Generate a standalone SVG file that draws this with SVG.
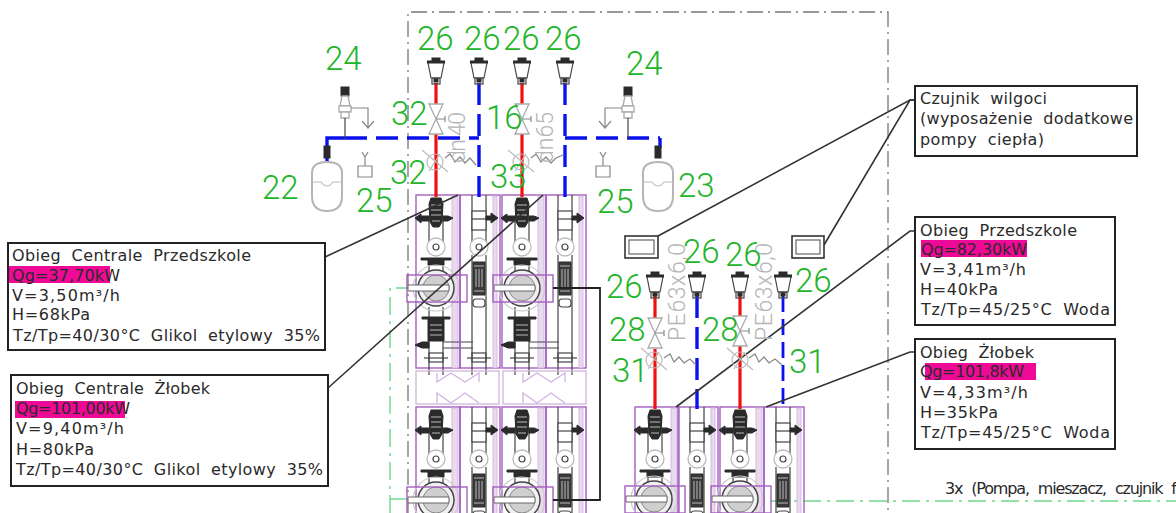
<svg xmlns="http://www.w3.org/2000/svg" width="1176" height="513" viewBox="0 0 1176 513">
<style>
text{font-family:"DejaVu Sans","Liberation Sans",sans-serif}
.t{font-size:16px;fill:#2a2a2a;word-spacing:5px}
.n{font-family:Roboto,"Liberation Sans",sans-serif;font-weight:300;font-size:33px;fill:#22b52a}
.g{font-family:Roboto,"Liberation Sans",sans-serif;font-weight:300;font-size:23px;fill:#b5b5b5}
.box{fill:#fff;stroke:#222;stroke-width:2}
.hl{fill:#ee0a96}
.lead{fill:none;stroke:#333;stroke-width:1.6}
.red{fill:none;stroke:#f01010;stroke-width:3.2}
.blue{fill:none;stroke:#0a10ee;stroke-width:3.4;stroke-dasharray:22 9}
.bs{fill:none;stroke:#0a10ee;stroke-width:3.4}
.frame{fill:none;stroke:#777;stroke-width:1.3;stroke-dasharray:16 5 2 5}
.gl{fill:none;stroke:#6ed68a;stroke-width:1.4;stroke-dasharray:18 6 3 6}
.p{fill:none;stroke:#a45fc0;stroke-width:1.4}
.pl{fill:#e9dbef;stroke:#cfaedc;stroke-width:.8}
.pp{fill:none;stroke:#d3b3e0;stroke-width:1.3}
.k{fill:none;stroke:#444;stroke-width:1.2}
.kk{fill:#2a2a2a;stroke:#2a2a2a;stroke-width:1}
.st{fill:none;stroke:#bbb;stroke-width:1}
.gr{fill:#fff;stroke:#aaa;stroke-width:1.3}
.gn{fill:none;stroke:#bbb;stroke-width:1.2}
.gd{fill:none;stroke:#888;stroke-width:1.2}
</style>
<defs>
<g id="vent">
<path class="k" d="M-8 -8 L-5 7 H5 L8 -8"/>
<rect class="kk" x="-8.5" y="-10" width="17" height="2"/>
<rect class="kk" x="-4" y="-13" width="8" height="3"/>
<rect class="k" x="-4" y="7" width="8" height="6"/>
<rect class="kk" x="-2" y="8" width="4" height="3"/>
</g>
<g id="valve">
<path class="gr" d="M-7 -15 H7 L0 0 Z M-7 15 H7 L0 0 Z"/>
<path class="gd" d="M0 0 H9 M9 -3 V3"/>
</g>
<g id="sensor">
<circle class="gn" cx="0" cy="0" r="8"/>
<path class="gn" d="M-13 -12 L13 10 M5 -8 L-6 9"/>
</g>
<g id="relief">
<rect class="kk" x="-4" y="0" width="8" height="9"/>
<path class="gr" d="M-3 9 H3 L5 19 H-5 Z"/>
<rect class="gr" x="-6" y="19" width="12" height="6"/>
<path class="gr" d="M-4 25 H4 V31 H-4 Z"/>
<path class="gd" d="M6 21 H23 V41 M17 34 L23 41 L29 34"/>
<path class="k" d="M0 31 V52"/>
</g>
<g id="funnel">
<path class="gd" d="M-3 0 L0 5 L3 0 M0 5 V14 M-7 14 V25 H7 V14 Z"/>
</g>
<g id="vessel">
<path d="M-15 10 Q-15 -1 0 -1 Q15 -1 15 10 V33 Q15 48 0 48 Q-15 48 -15 33 Z" fill="#fff" stroke="#b5b5b5" stroke-width="2"/>
<path class="gn" d="M-15 19 H-6 Q0 27 6 19 H15"/>
</g>
<g id="modA">
<rect class="p" x="-20" y="0" width="44" height="173"/>
<rect class="pl" x="16" y="1" width="6" height="172"/>
<path class="k" d="M-7 22 V56 M7 22 V56 M-7 70 V76 M7 70 V76 M-7 112 V180 M7 112 V180"/>
<path class="kk" d="M-5 3 H5 L7 9 L6 27 L3 32 H-3 L-6 27 L-7 9 Z"/>
<path class="st" d="M-5 10 H5 M-5 15 H5 M-5 20 H5 M-4 26 H4"/>
<path class="kk" d="M-21 23 L-15 19 V21 H-7 V26 H-15 V28 Z M7 21 H12 L17 23 L12 26 H7 Z"/>
<circle cx="0" cy="52" r="9" fill="#fff" stroke="#bbb" stroke-width="1.3"/>
<circle class="k" cx="0" cy="52" r="3"/>
<path class="kk" d="M-15 63 H15 V65 H8 V70 H-8 V65 H-15 Z"/>
<path class="kk" d="M-14 122 H14 V124 H8 V146 H-8 V124 H-14 Z"/>
<path class="st" d="M-6 130 H6 M-6 135 H6 M-6 140 H6"/>
<path class="kk" d="M-21 150 L-14 147 H-7 V153 H-14 Z"/>
<path class="k" d="M-12 163 H12"/>
<rect class="k" x="-7" y="158" width="14" height="9"/>
<path class="k" d="M7 147 H37 M7 153 H37"/>
</g>
<g id="modB">
<rect class="p" x="-19" y="0" width="40" height="173"/>
<rect class="pl" x="14" y="1" width="4" height="172"/>
<path class="k" d="M-7 0 V48 M7 0 V48 M-7 60 V180 M7 60 V180"/>
<rect x="-7" y="16" width="14" height="19" fill="#fff" stroke="#444" stroke-width="1.2"/>
<path class="k" d="M-7 24 H7"/>
<path class="kk" d="M7 21 H12 V18 L19 23 L12 28 V25 H7 Z"/>
<circle cx="0" cy="52" r="9" fill="#fff" stroke="#bbb" stroke-width="1.3"/>
<circle class="k" cx="0" cy="52" r="3"/>
<path d="M-6 67 H6 V100 H-6 Z" fill="#3a3a3a" stroke="#2a2a2a"/>
<path class="st" d="M-3 74 V92 M0 74 V92 M3 74 V92 M-5 71 H5 M-5 96 H5"/>
<rect class="k" x="-6" y="104" width="12" height="8" rx="3"/>
<rect class="k" x="-7" y="158" width="14" height="9"/>
<path class="k" d="M-12 163 H12"/>
</g>
<g id="pump">
<circle cx="29" cy="13" r="23" fill="none" stroke="#ccc" stroke-width="1.2"/>
<circle cx="29" cy="13" r="18" fill="#f0f0f0" stroke="#444" stroke-width="1.5"/>
<circle cx="29" cy="13" r="13" fill="#cfcfcf" stroke="#888"/>
<path d="M1 10 H42 V16 H1 Z" fill="#fff" stroke="#666"/>
<rect class="p" x="0" y="0" width="60" height="27"/>
</g>
</defs>

<rect width="1176" height="513" fill="#fff"/>
<path class="frame" d="M408 513 V12 H888 V513"/>

<g id="green-lines">
<path class="gl" d="M390 513 V288 H408"/>
<path class="gl" d="M390 499 H408"/>
<path class="gl" d="M770 501 H1176"/>
</g>

<g id="module-group-left">
<g id="module-1"><use href="#modA" x="436" y="195"/><use href="#pump" x="407" y="275"/></g>
<g id="module-2"><use href="#modB" x="479" y="195"/></g>
<g id="module-3"><use href="#modA" x="522" y="195"/><use href="#pump" x="493" y="275"/></g>
<g id="module-4"><use href="#modB" x="565" y="195"/></g>
<g id="coupling-1"><rect class="pp" x="416" y="371" width="83" height="33"/><path class="pp" d="M437 373 V382 L451 373 L465 382 L479 373 V382 M437 403 V393 L451 403 L465 393 L479 403"/></g>
<g id="coupling-2"><rect class="pp" x="503" y="371" width="83" height="33"/><path class="pp" d="M523 373 V382 L537 373 L551 382 L565 373 V382 M523 403 V393 L537 403 L551 393 L565 403"/></g>
<g id="module-5"><use href="#modA" x="436" y="407"/><use href="#pump" x="407" y="487"/></g>
<g id="module-6"><use href="#modB" x="479" y="407"/></g>
<g id="module-7"><use href="#modA" x="522" y="407"/><use href="#pump" x="493" y="487"/></g>
<g id="module-8"><use href="#modB" x="565" y="407"/></g>
</g>

<g id="module-group-right">
<g id="module-9"><use href="#modA" x="655" y="407"/><use href="#pump" x="625" y="486"/></g>
<g id="module-10"><use href="#modB" x="697" y="407"/></g>
<g id="module-11"><use href="#modA" x="740" y="407"/><use href="#pump" x="711" y="486"/></g>
<g id="module-12"><use href="#modB" x="783" y="407"/></g>
</g>

<g id="connectors">
<path class="red" d="M436 83 V105 M436 134 V197"/>
<path class="blue" d="M479 83 V197"/>
<path class="red" d="M522 83 V105 M522 134 V197"/>
<path class="blue" d="M565 83 V197"/>
<path class="bs" d="M327 162 V138 H345"/>
<path class="blue" d="M345 138 H479"/>
<path class="blue" d="M565 138 H660"/>
<path class="bs" d="M660 138 V148"/>
<path class="red" d="M655 296 V318 M655 349 V409"/>
<path class="blue" d="M697 296 V409"/>
<path class="red" d="M740 296 V316 M740 346 V409"/>
<path class="blue" style="stroke-width:2.8;stroke-dasharray:16 7" d="M783 296 V409"/>
<path class="k" style="stroke-width:1.8;stroke:#222" d="M553 288 H600 V500 H553"/>
<path class="gd" d="M445 158 L450 154 L455 162 L460 157 L465 163 L470 158 L476 165 M531 158 L536 154 L541 162 L546 157 L551 163 L556 158 L563 155 M664 358 L670 354 L674 362 L679 357 L684 363 L690 359 L696 365 M749 358 L755 354 L759 362 L764 357 L769 363 L775 359 L782 365"/>
<path class="lead" d="M325 257 L458 195"/>
<path class="lead" d="M328 388 L543 195"/>
<path class="lead" d="M915 100 H910 L658 236"/>
<path class="lead" d="M915 100 H910 L824 245"/>
<path class="lead" d="M915 231 H910 L676 407"/>
<path class="lead" d="M915 352 H910 L766 407"/>
</g>

<g id="vents">
<use id="vent-1" href="#vent" x="436" y="71"/>
<use id="vent-2" href="#vent" x="479" y="71"/>
<use id="vent-3" href="#vent" x="522" y="71"/>
<use id="vent-4" href="#vent" x="565" y="71"/>
<use id="vent-5" href="#vent" x="655" y="285"/>
<use id="vent-6" href="#vent" x="697" y="285"/>
<use id="vent-7" href="#vent" x="740" y="285"/>
<use id="vent-8" href="#vent" x="783" y="285"/>
</g>
<g id="valves">
<use id="valve-1" href="#valve" x="436" y="119"/>
<use id="valve-2" href="#valve" x="522" y="119"/>
<use id="valve-3" href="#valve" x="655" y="333"/>
<use id="valve-4" href="#valve" x="740" y="331"/>
</g>
<g id="sensors">
<use id="sensor-1" href="#sensor" x="435" y="162"/>
<use id="sensor-2" href="#sensor" x="521" y="162"/>
<use id="sensor-3" href="#sensor" x="654" y="360"/>
<use id="sensor-4" href="#sensor" x="740" y="360"/>
</g>
<g id="relief-left"><use href="#relief" x="345" y="87"/></g>
<g id="relief-right"><use href="#relief" transform="translate(628 87) scale(-1 1)"/></g>
<g id="funnel-left"><use href="#funnel" x="365" y="152"/></g>
<g id="funnel-right"><use href="#funnel" x="603" y="152"/></g>
<g id="vessel-left"><use href="#vessel" x="327" y="163"/><rect class="kk" x="324" y="146" width="6" height="12"/></g>
<g id="vessel-right"><use href="#vessel" x="658" y="163"/><rect class="kk" x="655" y="146" width="6" height="12"/></g>
<g id="humidity-sensor-1"><rect x="625" y="236" width="33" height="22" fill="#fff" stroke="#333" stroke-width="1.6"/><rect x="629" y="240" width="25" height="14" fill="none" stroke="#666" stroke-width="1.2"/></g>
<g id="humidity-sensor-2"><rect x="792" y="236" width="32" height="22" fill="#fff" stroke="#333" stroke-width="1.6"/><rect x="796" y="240" width="24" height="14" fill="none" stroke="#666" stroke-width="1.2"/></g>

<g id="gray-labels">
<text class="g" transform="translate(465 163) rotate(-90)" textLength="51">dn 40</text>
<text class="g" transform="translate(553 163) rotate(-90)" textLength="51">dn65</text>
<text class="g" transform="translate(685 341) rotate(-90)" textLength="98">PE63x6,0</text>
<text class="g" transform="translate(772 341) rotate(-90)" textLength="98">PE63x6,0</text>
</g>

<g id="numbers">
<text class="n" x="417" y="50">26</text><text class="n" x="464" y="50">26</text><text class="n" x="503" y="50">26</text><text class="n" x="545" y="50">26</text>
<text class="n" x="325" y="70">24</text><text class="n" x="626" y="75">24</text>
<text class="n" x="391" y="125">32</text><text class="n" x="390" y="184">32</text>
<text class="n" x="486" y="129">16</text><text class="n" x="490" y="188">33</text>
<text class="n" x="356" y="212">25</text><text class="n" x="597" y="213">25</text>
<text class="n" x="262" y="199">22</text><text class="n" x="678" y="197">23</text>
<text class="n" x="606" y="298">26</text><text class="n" x="683" y="263">26</text><text class="n" x="725" y="266">26</text><text class="n" x="795" y="292">26</text>
<text class="n" x="609" y="341">28</text><text class="n" x="702" y="341">28</text>
<text class="n" x="612" y="382">31</text><text class="n" x="789" y="373">31</text>
</g>

<g id="note-centrale-przedszkole">
<rect class="box" x="8" y="243" width="317" height="107"/>
<rect class="hl" x="9" y="266" width="101" height="17"/>
<text class="t" x="12" y="261" textLength="239">Obieg Centrale Przedszkole</text>
<text class="t" x="12" y="281" textLength="108">Qg=37,70kW</text>
<text class="t" x="12" y="301" textLength="108">V=3,50m³/h</text>
<text class="t" x="12" y="320" textLength="78">H=68kPa</text>
<text class="t" x="13" y="341" textLength="307">Tz/Tp=40/30°C Glikol etylowy 35%</text>
</g>
<g id="note-centrale-zlobek">
<rect class="box" x="11" y="375" width="317" height="111"/>
<rect class="hl" x="15" y="401" width="110" height="17"/>
<text class="t" x="16" y="394" textLength="194">Obieg Centrale Żłobek</text>
<text class="t" x="16" y="414" textLength="114">Qg=101,00kW</text>
<text class="t" x="16" y="434" textLength="108">V=9,40m³/h</text>
<text class="t" x="16" y="455" textLength="78">H=80kPa</text>
<text class="t" x="16" y="475" textLength="307">Tz/Tp=40/30°C Glikol etylowy 35%</text>
</g>
<g id="note-czujnik">
<rect class="box" x="915" y="86" width="222" height="70"/>
<text class="t" x="920" y="104" textLength="127">Czujnik wilgoci</text>
<text class="t" x="920" y="124" textLength="213">(wyposażenie dodatkowe</text>
<text class="t" x="920" y="145" textLength="124">pompy ciepła)</text>
</g>
<g id="note-przedszkole">
<rect class="box" x="915" y="217" width="200" height="108"/>
<rect class="hl" x="921" y="240" width="106" height="17"/>
<text class="t" x="920" y="236" textLength="157">Obieg Przedszkole</text>
<text class="t" x="921" y="255" textLength="106">Qg=82,30kW</text>
<text class="t" x="920" y="275" textLength="106">V=3,41m³/h</text>
<text class="t" x="920" y="295" textLength="78">H=40kPa</text>
<text class="t" x="921" y="315" textLength="189">Tz/Tp=45/25°C Woda</text>
</g>
<g id="note-zlobek">
<rect class="box" x="915" y="339" width="200" height="110"/>
<rect class="hl" x="925" y="363" width="111" height="17"/>
<text class="t" x="920" y="358" textLength="114">Obieg Żłobek</text>
<text class="t" x="920" y="377" textLength="104">Qg=101,8kW</text>
<text class="t" x="920" y="398" textLength="108">V=4,33m³/h</text>
<text class="t" x="920" y="418" textLength="78">H=35kPa</text>
<text class="t" x="921" y="438" textLength="189">Tz/Tp=45/25°C Woda</text>
</g>
<text class="t" x="945" y="494" textLength="232">3x (Pompa, mieszacz, czujnik f</text>
</svg>
